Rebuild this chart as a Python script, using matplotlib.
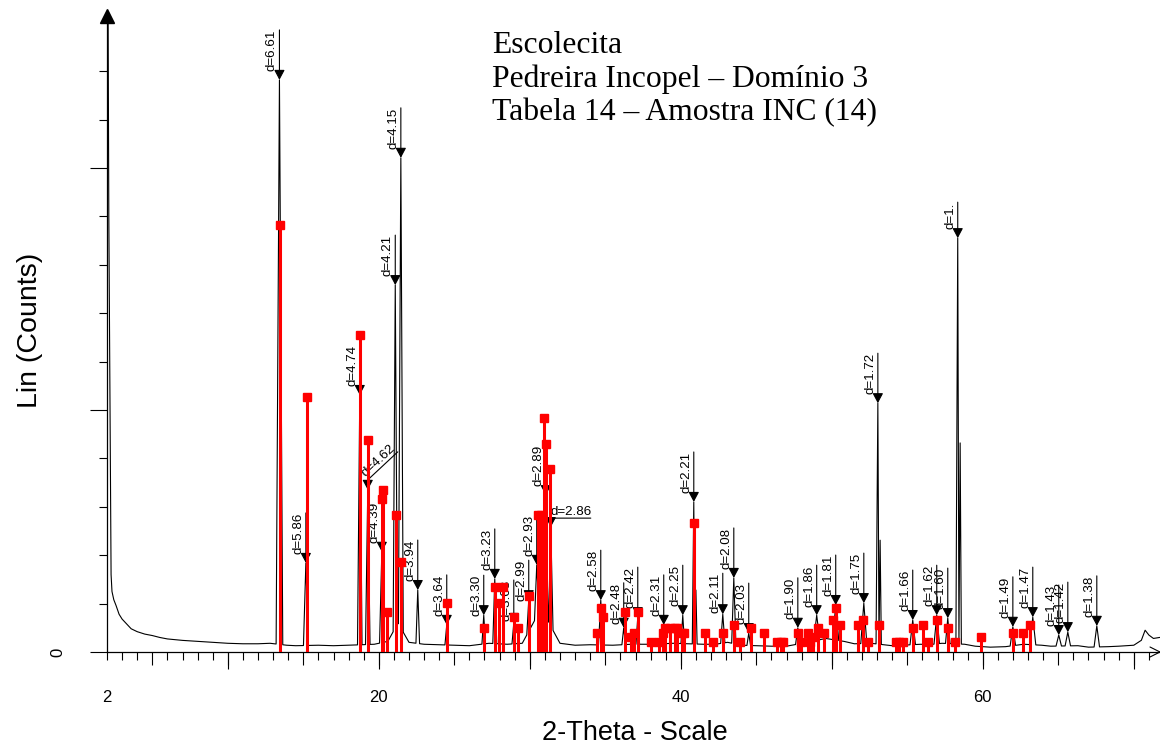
import matplotlib
matplotlib.use("Agg")
import matplotlib.pyplot as plt
from matplotlib.patches import ArrowStyle
from matplotlib.transforms import offset_copy
import numpy as np

plt.rcParams['font.family'] = ['Liberation Sans', 'DejaVu Sans']

# ---- measured pattern: background level (2-theta, counts) ----
bg_theta = [2.04, 2.12, 2.20, 2.27, 2.33, 2.45, 2.60, 2.80, 3.00, 3.30, 3.60, 4.00,
            4.50, 5.00, 5.50, 6.00, 7.00, 8.00, 9.00, 10.0, 11.0, 12.0, 12.8, 13.9,
            14.5, 16.0, 17.0, 18.0, 19.7, 20.6, 21.27, 22.0, 23.0, 24.0, 25.0, 26.0,
            27.3, 28.5, 29.5, 30.75, 32.0, 33.0, 34.0, 35.5, 36.7, 38.0, 39.5, 41.5,
            42.3, 43.1, 44.0, 45.0, 46.0, 47.0, 48.4, 49.6, 50.8, 51.5, 52.6, 54.0,
            55.9, 56.4, 57.3, 58.8, 59.5, 60.5, 61.5, 62.7, 63.9, 64.5, 66.3, 67.0,
            68.3, 69.0, 70.0, 70.4, 71.0, 71.3, 71.7]
bg_counts = [1600, 900, 520, 160, 125, 108, 96, 78, 68, 58, 48, 42,
             37, 34, 30, 27, 24, 22, 20, 18, 17, 17, 18, 14,
             13, 14, 13, 14, 16, 22, 60, 20, 16, 15, 14, 13,
             18, 16, 18, 90, 18, 14, 15, 14, 16, 16, 18, 16,
             16, 20, 14, 13, 12, 12, 20, 28, 22, 17, 18, 13,
             16, 15, 18, 16, 12, 10, 11, 16, 14, 12, 13, 10,
             11, 12, 14, 22, 35, 28, 30]

# ---- measured pattern: peaks (2-theta, top counts, half base width) ----
peak_theta = [13.42, 15.17, 18.74, 19.27, 20.20, 21.09, 21.46, 22.58, 24.50, 26.95,
              27.68, 28.94, 29.93, 30.46, 31.06, 31.39, 34.70, 36.22, 37.15, 38.87,
              40.13, 40.86, 41.00, 42.78, 43.51, 44.50, 47.75, 49.00, 50.26, 52.12,
              53.05, 53.20, 55.36, 56.95, 57.68, 58.34, 58.50, 61.99, 63.31, 65.03,
              65.63, 67.55, 70.75]
peak_counts = [1182, 184, 531, 335, 207, 758, 1021, 128, 56, 76,
               151, 60, 107, 180, 324, 258, 107, 50, 72, 56,
               76, 310, 128, 78, 153, 39, 50, 76, 97, 101,
               514, 231, 66, 76, 70, 855, 432, 52, 72, 35,
               41, 54, 45]
peak_halfwidth = [0.22, 0.16, 0.15, 0.15, 0.15, 0.14, 0.16, 0.12, 0.12, 0.12,
                  0.13, 0.12, 0.13, 0.15, 0.15, 0.15, 0.15, 0.12, 0.12, 0.12,
                  0.12, 0.10, 0.08, 0.14, 0.14, 0.12, 0.15, 0.20, 0.20, 0.20,
                  0.12, 0.08, 0.18, 0.18, 0.15, 0.12, 0.08, 0.18, 0.20, 0.18,
                  0.18, 0.18, 0.25]
peak_labels = ['d=6.61', 'd=5.86', 'd=4.74', 'd=4.62', 'd=4.39', 'd=4.21', 'd=4.15',
               'd=3.94', 'd=3.64', 'd=3.30', 'd=3.23', 'd=3.08', 'd=2.99', 'd=2.93',
               'd=2.89', 'd=2.86', 'd=2.58', 'd=2.48', 'd=2.42', 'd=2.31', 'd=2.25',
               'd=2.21', '', 'd=2.11', 'd=2.08', 'd=2.03', 'd=1.90', 'd=1.86',
               'd=1.81', 'd=1.75', 'd=1.72', '', 'd=1.66', 'd=1.62', 'd=1.60',
               'd=1.', '', 'd=1.49', 'd=1.47', 'd=1.43', 'd=1.42', 'd=1.38', '']

# ---- reference pattern sticks (2-theta, counts) ----
ref_theta = [13.45, 15.23, 18.74, 19.27, 20.20, 20.27, 20.53, 21.13, 21.46, 24.50,
             26.99, 27.71, 27.98, 28.25, 28.97, 29.20, 29.93, 30.52, 30.72, 30.92,
             31.06, 31.33, 34.44, 34.70, 34.83, 36.29, 36.69, 36.89, 37.15, 38.03,
             38.54, 38.81, 38.94, 39.27, 39.60, 39.74, 40.07, 40.20, 40.86, 41.59,
             42.12, 42.78, 43.51, 43.91, 44.64, 45.50, 46.36, 46.62, 46.75, 47.75,
             47.95, 48.41, 48.54, 48.74, 49.07, 49.47, 50.07, 50.26, 50.53, 51.72,
             52.05, 52.38, 53.11, 54.24, 54.44, 54.70, 55.36, 56.03, 56.36, 56.95,
             57.68, 58.15, 59.87, 61.99, 62.65, 63.11]
ref_counts = [882, 527, 655, 438, 316, 335, 83, 283, 186, 101,
              50, 134, 101, 134, 72, 50, 116, 283, 283, 483,
              430, 378, 39, 91, 72, 83, 31, 39, 83, 21,
              21, 39, 50, 50, 50, 50, 39, 39, 266, 39,
              21, 39, 56, 21, 50, 39, 21, 21, 21, 39,
              21, 39, 21, 31, 50, 39, 66, 91, 56, 56,
              66, 21, 56, 21, 21, 21, 50, 56, 21, 66,
              50, 21, 31, 39, 39, 56]

title_lines = ['Escolecita', 'Pedreira Incopel \u2013 Dom\u00ednio 3',
               'Tabela 14 \u2013 Amostra INC (14)']

# ---- layout ----
W, H = 1160, 749
PX_PER_DEG = 15.1
PX_PER_COUNT = 0.484
PT = 72.0 / 100.0          # points per pixel at 100 dpi

fig = plt.figure(figsize=(W / 100, H / 100), dpi=100)
ax = fig.add_axes([107 / W, 97 / H, 1053 / W, 640 / H])
ax.set_xlim(2, 2 + 1053 / PX_PER_DEG)
ax.set_ylim(0, 640 / PX_PER_COUNT)


def build_trace():
    """Join background readings and peak profiles into one polyline."""
    peaks = sorted(zip(peak_theta, peak_counts, peak_halfwidth))
    pv = []
    for p, h, w in peaks:
        left = p - w
        if pv and left <= pv[-1][0]:
            prev_p = pv[-2][0]
            pv.pop()
            mid = 0.5 * (prev_p + p)
            pv.append((mid, float(np.interp(mid, bg_theta, bg_counts))))
        else:
            pv.append((left, float(np.interp(left, bg_theta, bg_counts))))
        pv.append((p, h))
        pv.append((p + w, float(np.interp(p + w, bg_theta, bg_counts))))
    spans = [(p - w, p + w) for p, h, w in peaks]
    bgv = [(t, c) for t, c in zip(bg_theta, bg_counts)
           if not any(a <= t <= b for a, b in spans)]
    pts = sorted(pv + bgv)
    return [q[0] for q in pts], [q[1] for q in pts]


tx, ty = build_trace()
ax.plot(tx, ty, color='black', lw=0.8, zorder=2)

# reference sticks
ax.vlines(ref_theta, 0, ref_counts, color='#ff0000', lw=2.2, zorder=5)
ax.plot(ref_theta, ref_counts, ls='none', marker='s', ms=5.2,
        mfc='#ff0000', mec='#ff0000', zorder=6)

# peak labels with leader arrows
head = ArrowStyle('-|>', head_length=6.0, head_width=3.2)
lab_fs = 9.6
leader_px = {'d=3.30': 40, 'd=3.08': 43, 'd=2.99': 40, 'd=2.11': 41,
             'd=2.48': 45, 'd=1.': 36}


def leader(x, y, dx0, dy0, dx1, dy1, arrow=False):
    """Line between two pixel offsets from the data point (x, y)."""
    base = offset_copy(ax.transData, fig=fig, x=dx0 * PT, y=dy0 * PT, units='points')
    ax.annotate('', xy=(x, y), xycoords=base,
                xytext=(dx1 * PT - dx0 * PT, dy1 * PT - dy0 * PT), textcoords='offset points',
                arrowprops=dict(arrowstyle=head if arrow else '-', color='black',
                                lw=0.8, shrinkA=0, shrinkB=0, mutation_scale=1),
                zorder=3, annotation_clip=False)


for p, h, lab in zip(peak_theta, peak_counts, peak_labels):
    if not lab:
        continue
    if lab == 'd=4.62':
        leader(p, h, 0, 0, 0, 10, arrow=True)
        leader(p, h, 0, 10, 30, 38)
        ax.annotate(lab, xy=(p, h), xytext=(11 * PT, 29 * PT), textcoords='offset points',
                    rotation=43, rotation_mode='anchor', ha='center', va='center',
                    fontsize=lab_fs, zorder=3)
    elif lab == 'd=2.86':
        leader(p, h, 0, 0, 0, 9, arrow=True)
        leader(p, h, 0, 9, 40, 9)
        ax.annotate(lab, xy=(p, h), xytext=(0, 12 * PT), textcoords='offset points',
                    ha='left', va='baseline', fontsize=lab_fs, zorder=3)
    else:
        L = leader_px.get(lab, 50)
        leader(p, h, 0, 0, 0, L, arrow=True)
        ax.annotate(lab, xy=(p, h), xytext=(-1.5 * PT, L * PT), textcoords='offset points',
                    rotation=90, ha='right', va='top', fontsize=lab_fs, zorder=3)

# ---- axes styling ----
for s in ('top', 'right'):
    ax.spines[s].set_visible(False)
for s in ('left', 'bottom'):
    ax.spines[s].set_linewidth(0.9)

ax.set_xticks(np.arange(5, 71, 5))
ax.set_xticks(np.arange(2, 72, 1), minor=True)
ax.tick_params(axis='x', which='major', length=13 * PT, width=0.8, labelbottom=False)
ax.tick_params(axis='x', which='minor', length=8 * PT, width=0.8)
sec = ax.secondary_xaxis('bottom')
sec.set_xticks(np.arange(10, 71, 10))
sec.tick_params(length=17 * PT, width=0.8, labelbottom=False)
sec.spines['bottom'].set_visible(False)

ax.set_yticks([0, 500, 1000])
ax.set_yticks(np.arange(100, 1201, 100), minor=True)
ax.tick_params(axis='y', which='major', length=17 * PT, width=0.8, labelleft=False)
ax.tick_params(axis='y', which='minor', length=8 * PT, width=0.8)

for v in (2, 20, 40, 60):
    ax.annotate(str(v), xy=(v, 0), xycoords=('data', 'axes fraction'),
                xytext=(0, -45 * PT), textcoords='offset points',
                ha='center', va='center', fontsize=12)
fig.text(58 / W, 1 - 652 / H, '0', rotation=90, ha='center', va='center', fontsize=12)

# axis arrow heads
ax.plot([2], [1.0], marker='^', ms=9.5, color='black', clip_on=False, zorder=7,
        transform=offset_copy(ax.get_xaxis_transform(), fig=fig, y=-4 * PT, units='points'))
xe = ax.get_xlim()[1]
for sgn in (1, -1):
    ax.annotate('', xy=(xe, 0), xycoords=('data', 'axes fraction'),
                xytext=(-10 * PT, sgn * 5 * PT), textcoords='offset points',
                arrowprops=dict(arrowstyle='-', color='black', lw=0.8, shrinkA=0, shrinkB=0),
                annotation_clip=False)

# axis titles
fig.text(30 / W, 1 - 330 / H, 'Lin (Counts)', rotation=90, ha='center', va='center',
         fontsize=20.5)
fig.text(635 / W, 1 - 733 / H, '2-Theta - Scale', ha='center', va='center', fontsize=19.5)

# sample title block
for i, line in enumerate(title_lines):
    fig.text(492 / W, 1 - (53 + 33.5 * i) / H, line, ha='left', va='baseline',
             fontsize=22.8, family=['Liberation Serif', 'DejaVu Serif'])

fig.savefig('out.png', dpi=100)
